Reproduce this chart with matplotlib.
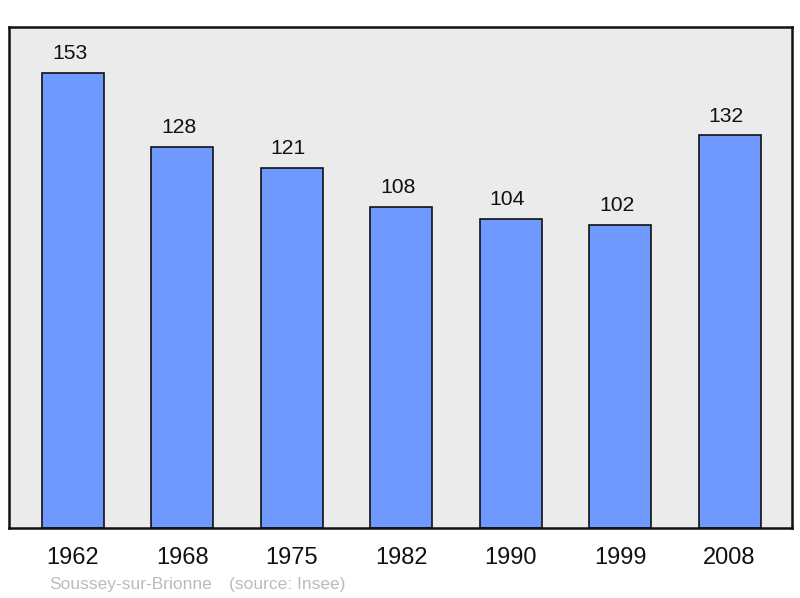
import matplotlib.pyplot as plt

years = ["1962", "1968", "1975", "1982", "1990", "1999", "2008"]
population = [153, 128, 121, 108, 104, 102, 132]

plt.rcParams['font.family'] = ['Liberation Sans', 'DejaVu Sans']

fig = plt.figure(figsize=(8, 5.98), dpi=100, facecolor="white")
ax = fig.add_axes([0.01125, 0.117, 0.979, 0.838])
ax.set_facecolor("#ebebeb")

x = range(len(years))
bars = ax.bar(x, population, width=0.567, color="#7099ff",
              edgecolor="#111111", linewidth=1.2, zorder=2)
for bar, val in zip(bars, population):
    ax.annotate(str(val), (bar.get_x() + bar.get_width() / 2, val),
                xytext=(-2.5, 10), textcoords="offset points",
                ha="center", va="baseline", fontsize=15.2, color="#111111")

ax.set_xlim(-0.585, 6.572)
ax.set_ylim(0, 168.5)
ax.set_yticks([])
ax.set_xticks(list(x))
ax.set_xticklabels(years, fontsize=17, color="#111111")
ax.tick_params(axis="x", length=0, pad=13.5)
for s in ax.spines.values():
    s.set_linewidth(1.8)
    s.set_color("#111111")

fig.text(49 / 800, 1 - 584 / 598, "Soussey-sur-Brionne", fontsize=12.5,
         color="#bbbbbb", va="center", ha="left")
fig.text(229 / 800, 1 - 584 / 598, "(source: Insee)", fontsize=12.5,
         color="#bbbbbb", va="center", ha="left")

fig.savefig("out.png", dpi=100, facecolor="white")
